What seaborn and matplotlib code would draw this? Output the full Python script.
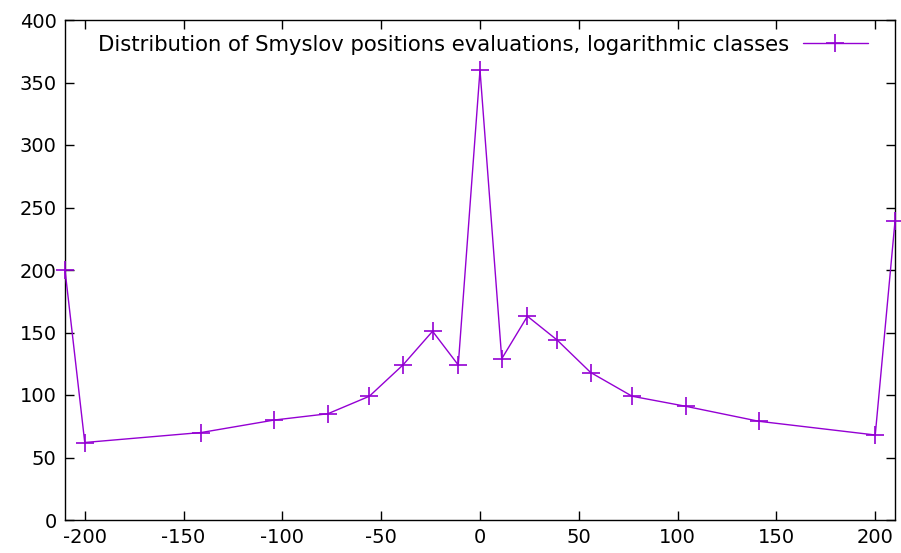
import matplotlib
matplotlib.use("Agg")
import matplotlib.pyplot as plt
import seaborn as sns
import pandas as pd

# Data
evaluations = [-210, -200, -141, -104, -77, -56, -39, -24, -11, 0,
               11, 24, 39, 56, 77, 104, 141, 200, 210]
counts = [200, 62, 70, 80, 85, 99, 124, 151, 124, 360,
          129, 163, 144, 118, 99, 91, 79, 68, 239]
series_label = "Distribution of Smyslov positions evaluations, logarithmic classes"
x_ticks = [-200, -150, -100, -50, 0, 50, 100, 150, 200]
y_ticks = [0, 50, 100, 150, 200, 250, 300, 350, 400]

sns.set_theme(style="white")
plt.rcParams['font.family'] = ['DejaVu Sans']
plt.rcParams['axes.unicode_minus'] = False
plt.rcParams['text.color'] = 'black'

df = pd.DataFrame({"x": evaluations, "y": counts})

fig = plt.figure(figsize=(9.01, 5.53), dpi=100)
ax = fig.add_axes([65/901, 33/553, 830/901, 500/553])

color = "#9400D3"
sns.lineplot(data=df, x="x", y="y", ax=ax, color=color, marker="+",
             markersize=13, markeredgewidth=1.2, markeredgecolor=color,
             markerfacecolor=color, linewidth=1.0,
             label=series_label, clip_on=False, zorder=3)

ax.set_xlim(-210, 210)
ax.set_ylim(0, 400)
ax.set_xticks(x_ticks)
ax.set_yticks(y_ticks)
ax.set_xlabel("")
ax.set_ylabel("")
for s in ax.spines.values():
    s.set_color("black")
    s.set_linewidth(1.0)
ax.tick_params(axis="both", which="major", direction="in", length=6.5,
               width=1.0, color="black", labelsize=14, labelcolor="black",
               top=True, right=True, bottom=True, left=True, pad=6)
ax.grid(False)

leg = ax.legend(loc="upper right", frameon=False, markerfirst=False,
                fontsize=15.2, handlelength=3.1, borderaxespad=0.3,
                handletextpad=0.66, bbox_to_anchor=(1 - 12/830, 1.0))
for t in leg.get_texts():
    t.set_color("black")

fig.savefig("out.png", dpi=100, facecolor="white")
